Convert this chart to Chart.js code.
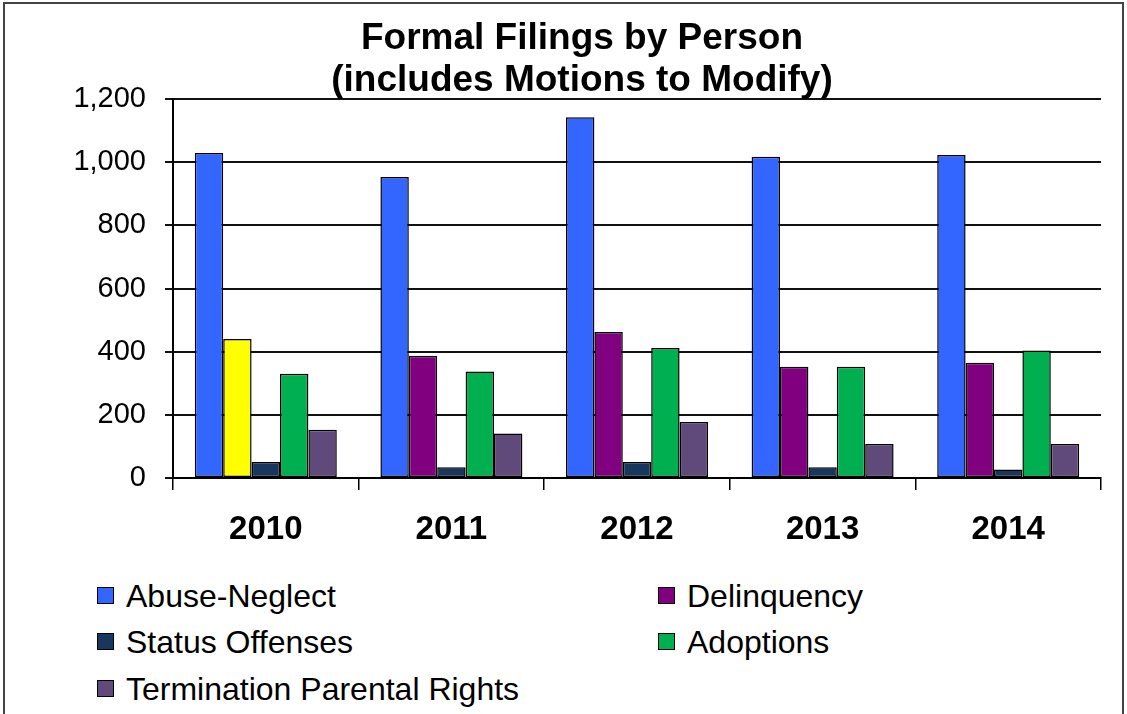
<!DOCTYPE html>
<html>
<head>
<meta charset="utf-8">
<script src="https://cdn.jsdelivr.net/npm/chart.js@4"></script>
<style>
  html, body { margin: 0; padding: 0; background: #fff; overflow: hidden; }
  body { width: 1127px; height: 714px; position: relative; font-family: "Liberation Sans", Arial, sans-serif; }
  #frame { position: absolute; left: 3px; top: 2px; width: 1121px; height: 800px; border: 2px solid #444; box-sizing: border-box; }
  #wrap { position: absolute; left: 0; top: 0; width: 1127px; height: 558px; }
  #title { position: absolute; left: 82px; width: 1000px; top: 16px; text-align: center; font-weight: bold; font-size: 37px; line-height: 42px; color: #000; }
  .lg { position: absolute; font-size: 32px; line-height: 32px; color: #000; white-space: nowrap; }
  .lg .box { position: absolute; width: 15px; height: 15px; border: 1px solid #000; left: 0; top: 7px; }
  .lg .txt { position: absolute; white-space: nowrap; }
</style>
</head>
<body>
<div id="frame"></div>
<div id="wrap"><canvas id="c" width="1127" height="558"></canvas></div>
<div id="title">Formal Filings by Person<br>(includes Motions to Modify)</div>
<div id="legend"></div>
<script>
const categories = ['2010', '2011', '2012', '2013', '2014'];
const seriesNames = ['Abuse-Neglect', 'Delinquency', 'Status Offenses', 'Adoptions', 'Termination Parental Rights'];
const abuseNeglect = [1029, 953, 1142, 1017, 1023];
const delinquency = [440, 387, 462, 352, 365];
const statusOffenses = [51, 34, 51, 34, 27];
const adoptions = [330, 337, 412, 352, 404];
const terminationParentalRights = [153, 141, 177, 108, 108];
const yTicks = [0, 200, 400, 600, 800, 1000, 1200];

const colors = ['#3366FF', '#800080', '#17375E', '#00B050', '#604A7B'];
const highlight = '#FFFF00';
const seriesValues = [abuseNeglect, delinquency, statusOffenses, adoptions, terminationParentalRights];

const datasets = seriesValues.map((vals, i) => ({
  label: seriesNames[i],
  data: vals,
  backgroundColor: i === 1 ? categories.map((c, k) => k === 0 ? highlight : colors[i]) : colors[i],
  borderColor: '#000',
  borderWidth: 1.5,
  borderSkipped: false,
  categoryPercentage: 0.765,
  barPercentage: 1.0
}));

new Chart(document.getElementById('c'), {
  type: 'bar',
  data: { labels: categories, datasets },
  options: {
    responsive: false,
    animation: false,
    layout: { padding: { left: 0, right: 26, top: 99, bottom: 0 } },
    plugins: { legend: { display: false }, title: { display: false }, tooltip: { enabled: false } },
    scales: {
      x: {
        offset: true,
        grid: { offset: true, drawOnChartArea: false, color: '#000', lineWidth: 1.5, tickLength: 12 },
        border: { color: '#000', width: 2 },
        ticks: { color: '#000', padding: 20, font: { family: '"Liberation Sans", Arial, sans-serif', size: 33, weight: 'bold' }, maxRotation: 0 },
        afterFit: s => { s.height = 80; }
      },
      y: {
        min: 0, max: 1200,
        afterBuildTicks: s => { s.ticks = yTicks.map(v => ({ value: v })); },
        grid: { color: '#111', lineWidth: 2, tickLength: 8 },
        border: { color: '#000', width: 2 },
        ticks: { color: '#000', padding: 19, font: { family: '"Liberation Sans", Arial, sans-serif', size: 29 },
          callback: v => v.toLocaleString('en-US') },
        afterFit: s => { s.width = 173; }
      }
    }
  }
});

// HTML legend built from the series
const legendPos = [[97, 580], [658, 580], [97, 626], [658, 626], [97, 673]];
const lg = document.getElementById('legend');
seriesNames.forEach((name, i) => {
  const d = document.createElement('div');
  d.className = 'lg';
  d.style.left = legendPos[i][0] + 'px';
  d.style.top = legendPos[i][1] + 'px';
  const b = document.createElement('div');
  b.className = 'box';
  b.style.background = colors[i];
  const t = document.createElement('div');
  t.className = 'txt';
  t.style.left = '29px';
  t.textContent = name;
  d.appendChild(b); d.appendChild(t);
  lg.appendChild(d);
});
</script>
</body>
</html>
